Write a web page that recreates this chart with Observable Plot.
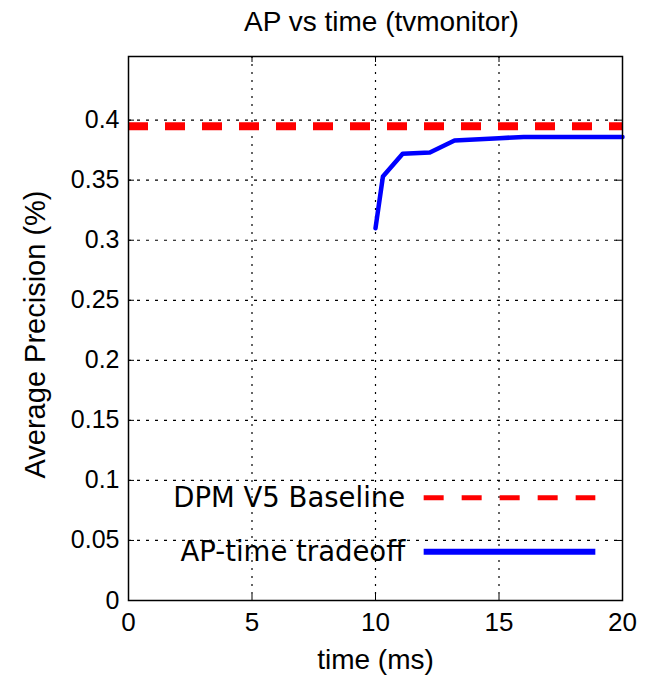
<!DOCTYPE html>
<html>
<head>
<meta charset="utf-8">
<script src="https://cdn.jsdelivr.net/npm/d3@7"></script>
<script src="https://cdn.jsdelivr.net/npm/@observablehq/plot@0.6"></script>
<style>
  body { margin: 0; background: #fff; }
  svg { font-family: "Liberation Sans", Arial, sans-serif; }
</style>
</head>
<body>
<div id="chart"></div>
<script>
const titleText = "AP vs time (tvmonitor)";
const xLabel = "time (ms)";
const yLabel = "Average Precision (%)";
const xTicks = [0, 5, 10, 15, 20];
const yTicks = [0, 0.05, 0.1, 0.15, 0.2, 0.25, 0.3, 0.35, 0.4];

// AP-time tradeoff curve
const tradeTime = [10.0, 10.3, 11.1, 12.2, 13.2, 15.0, 16.0, 20.0];
const tradeAP   = [0.310, 0.353, 0.372, 0.373, 0.383, 0.385, 0.386, 0.386];
const tradeoff = tradeTime.map((t, i) => ({time: t, ap: tradeAP[i]}));

// DPM V5 baseline
const baselineAP = 0.395;

const legendNames = ["DPM V5 Baseline", "AP-time tradeoff"];
const legendColors = ["#ff0000", "#0000ff"];

const W = 645, H = 678;
const mL = 128, mT = 56, mR = 23, mB = 78;
const frameH = H - mT - mB, frameW = W - mL - mR;

const legendRows = legendNames.map((n, i) => ({name: n, color: legendColors[i], row: i}));
const legY = [0.0855, 0.0405];

const chart = Plot.plot({
  width: W, height: H,
  marginLeft: mL, marginTop: mT, marginRight: mR, marginBottom: mB,
  style: {fontSize: "24px", fontFamily: "Liberation Sans, Arial, sans-serif", color: "#000", background: "#fff"},
  x: {domain: [0, 20]},
  y: {domain: [0, 0.453]},
  marks: [
    // dotted grid
    Plot.ruleX(xTicks.slice(1, -1), {x: d => d, stroke: "#000", strokeWidth: 1.2, strokeDasharray: "2,6", strokeOpacity: 1}),
    Plot.ruleY(yTicks.slice(1), {y: d => d, stroke: "#000", strokeWidth: 1.2, strokeDasharray: "3,6", strokeOpacity: 1}),
    // inward ticks
    Plot.tickX(xTicks, {x: d => d, insetTop: frameH - 6, stroke: "#000"}),
    Plot.tickX(xTicks, {x: d => d, insetBottom: frameH - 6, stroke: "#000"}),
    Plot.tickY(yTicks, {y: d => d, insetRight: frameW - 6, stroke: "#000"}),
    Plot.tickY(yTicks, {y: d => d, insetLeft: frameW - 6, stroke: "#000"}),
    // baseline
    Plot.ruleY([baselineAP], {y: d => d, stroke: "#ff0000", strokeWidth: 8, strokeDasharray: "20,17"}),
    // tradeoff
    Plot.line(tradeoff, {x: "time", y: "ap", stroke: "#0000ff", strokeWidth: 4.5, strokeLinejoin: "round"}),
    // legend
    Plot.text(legendRows, {x: 11.2, y: d => legY[d.row], text: "name", textAnchor: "end", fontSize: 27.5, fontFamily: "DejaVu Sans, sans-serif", fill: "#000"}),
    Plot.link(legendRows.filter(d => d.row === 0), {x1: 11.95, x2: 18.9, y1: d => legY[d.row], y2: d => legY[d.row], stroke: "color", strokeWidth: 5, strokeDasharray: "20,18"}),
    Plot.link(legendRows.filter(d => d.row === 1), {x1: 11.95, x2: 18.9, y1: d => legY[d.row], y2: d => legY[d.row], stroke: "color", strokeWidth: 6}),
    Plot.frame({stroke: "#000", strokeWidth: 1.5}),
    Plot.axisX(xTicks, {tickSize: 0, tickPadding: 12, fontSize: 26, label: null}),
    Plot.axisY(yTicks, {tickSize: 0, tickPadding: 9, fontSize: 25, tickFormat: d => String(d), label: null}),
    Plot.text([xLabel], {frameAnchor: "bottom", lineAnchor: "middle", textAnchor: "middle", dy: 60, text: d => d, fontSize: 28, fill: "#000"}),
    Plot.text([yLabel], {frameAnchor: "left", lineAnchor: "middle", textAnchor: "middle", rotate: -90, dx: -93, dy: 6, text: d => d, fontSize: 29, fill: "#000"}),
    Plot.text([titleText], {frameAnchor: "top", lineAnchor: "middle", dy: -34, dx: 6, text: d => d, fontSize: 28, fill: "#000"})
  ]
});
document.getElementById("chart").appendChild(chart);
</script>
</body>
</html>
